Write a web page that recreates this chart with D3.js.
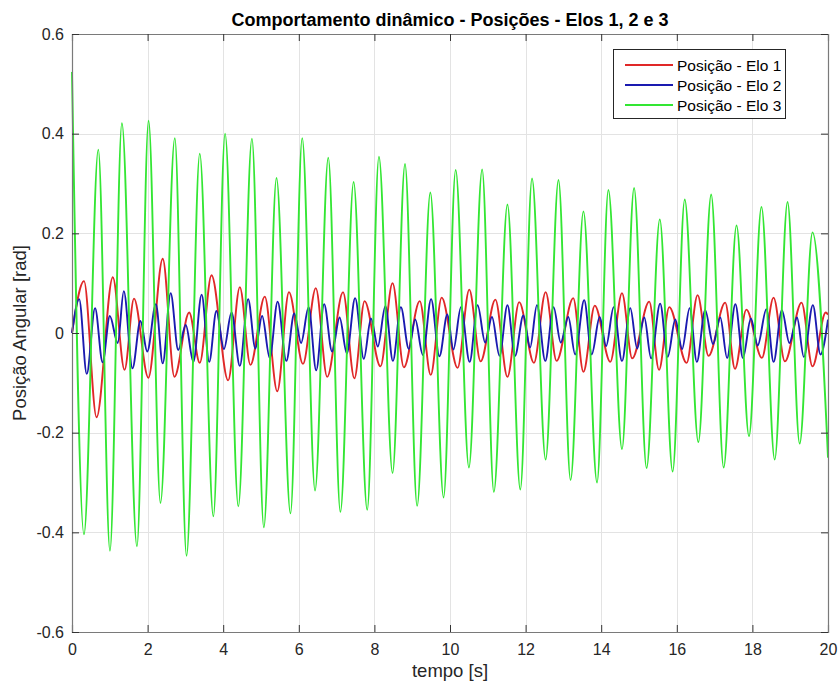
<!DOCTYPE html>
<html>
<head>
<meta charset="utf-8">
<script src="https://cdn.jsdelivr.net/npm/d3@7"></script>
<style>
  html, body { margin: 0; padding: 0; background: #fff; }
  svg { display: block; }
  text { font-family: "Liberation Sans", Arial, Helvetica, sans-serif; }
</style>
</head>
<body>
<svg id="chart" width="839" height="686"></svg>
<script>
// ---- data (extrema of each trace) ----
const seriesNames = ["Posição - Elo 1", "Posição - Elo 2", "Posição - Elo 3"];
const seriesColors = ["#e02828", "#1a1ab0", "#33e633"];

const elo1 = [[0,0],[0.317,0.104],[0.65,-0.169],[1.08,0.112],[1.39,-0.074],[1.64,0.069],[2.02,-0.09],[2.40,0.149],[2.71,-0.088],[3.10,0.041],[3.38,-0.06],[3.69,0.116],[4.13,-0.095],[4.44,0.092],[4.72,-0.064],[5.10,0.073],[5.43,-0.117],[5.74,0.082],[6.11,-0.062],[6.45,0.09],[6.75,-0.088],[7.17,0.082],[7.47,-0.091],[7.74,0.064],[8.16,-0.067],[8.48,0.10],[8.78,-0.069],[9.20,0.064],[9.49,-0.084],[9.78,0.071],[10.20,-0.07],[10.51,0.087],[10.81,-0.057],[11.20,0.067],[11.52,-0.088],[11.83,0.062],[12.22,-0.06],[12.53,0.082],[12.82,-0.056],[13.26,0.07],[13.53,-0.078],[13.83,0.055],[14.24,-0.058],[14.55,0.08],[14.82,-0.051],[15.27,0.063],[15.53,-0.074],[15.80,0.052],[16.26,-0.06],[16.55,0.076],[16.84,-0.046],[17.28,0.061],[17.54,-0.072],[17.84,0.047],[18.25,-0.05],[18.56,0.071],[18.86,-0.057],[19.30,0.061],[19.59,-0.067],[19.94,0.041],[20,0.037]];

const elo2 = [[0,0],[0.19,0.068],[0.39,-0.082],[0.61,0.05],[0.81,-0.059],[1.00,0.034],[1.21,-0.02],[1.37,0.084],[1.60,-0.071],[1.81,0.024],[1.99,-0.037],[2.22,0.058],[2.40,-0.061],[2.61,0.08],[2.81,-0.034],[3.01,0.016],[3.21,-0.058],[3.43,0.077],[3.63,-0.058],[3.82,0.044],[4.02,-0.032],[4.22,0.041],[4.44,-0.066],[4.66,0.068],[4.85,-0.031],[5.03,0.034],[5.23,-0.05],[5.44,0.063],[5.67,-0.056],[5.88,0.039],[6.06,-0.02],[6.26,0.052],[6.46,-0.075],[6.67,0.058],[6.88,-0.037],[7.08,0.031],[7.27,-0.041],[7.49,0.07],[7.72,-0.052],[7.91,0.029],[8.09,-0.027],[8.29,0.054],[8.49,-0.056],[8.70,0.052],[8.91,-0.032],[9.08,0.027],[9.28,-0.044],[9.50,0.068],[9.72,-0.047],[9.93,0.037],[10.09,-0.033],[10.29,0.052],[10.52,-0.058],[10.73,0.056],[10.93,-0.019],[11.11,0.032],[11.31,-0.046],[11.52,0.056],[11.72,-0.046],[11.94,0.035],[12.12,-0.029],[12.30,0.056],[12.52,-0.056],[12.74,0.052],[12.93,-0.019],[13.13,0.032],[13.31,-0.043],[13.55,0.066],[13.75,-0.043],[13.96,0.032],[14.13,-0.026],[14.33,0.052],[14.55,-0.056],[14.77,0.05],[14.95,-0.031],[15.14,0.031],[15.32,-0.051],[15.56,0.059],[15.76,-0.048],[15.96,0.027],[16.14,-0.032],[16.34,0.05],[16.53,-0.058],[16.75,0.046],[16.96,-0.022],[17.15,0.031],[17.33,-0.05],[17.55,0.058],[17.75,-0.05],[17.96,0.029],[18.14,-0.025],[18.37,0.048],[18.56,-0.058],[18.78,0.046],[18.98,-0.02],[19.18,0.031],[19.36,-0.048],[19.60,0.056],[19.80,-0.043],[20,0.027]];

const elo3 = [[0,0.524],[0.317,-0.404],[0.696,0.368],[1.004,-0.437],[1.32,0.421],[1.718,-0.428],[2.026,0.426],[2.34,-0.341],[2.72,0.391],[3.03,-0.447],[3.38,0.36],[3.74,-0.368],[4.05,0.40],[4.40,-0.348],[4.76,0.39],[5.075,-0.39],[5.41,0.311],[5.78,-0.362],[6.09,0.391],[6.43,-0.316],[6.78,0.352],[7.10,-0.359],[7.45,0.303],[7.81,-0.355],[8.12,0.354],[8.48,-0.281],[8.81,0.339],[9.13,-0.347],[9.48,0.282],[9.83,-0.33],[10.15,0.327],[10.50,-0.27],[10.85,0.328],[11.16,-0.319],[11.52,0.258],[11.86,-0.314],[12.17,0.31],[12.53,-0.254],[12.87,0.307],[13.19,-0.295],[13.53,0.244],[13.89,-0.30],[14.19,0.287],[14.55,-0.233],[14.87,0.291],[15.20,-0.271],[15.55,0.228],[15.89,-0.278],[16.21,0.268],[16.57,-0.219],[16.91,0.278],[17.24,-0.27],[17.58,0.216],[17.91,-0.207],[18.24,0.253],[18.59,-0.254],[18.93,0.263],[19.25,-0.222],[19.59,0.202],[20,-0.25]];

const xTicks = [0,2,4,6,8,10,12,14,16,18,20];
const yTicks = [-0.6,-0.4,-0.2,0,0.2,0.4,0.6];
const titleText = "Comportamento dinâmico - Posições - Elos 1, 2 e 3";
const xLabel = "tempo [s]";
const yLabel = "Posição Angular [rad]";

// ---- layout ----
const margin = {left: 72, right: 11, top: 34, bottom: 54};
const W = 839, H = 686;
const svg = d3.select("#chart");
const x = d3.scaleLinear().domain([0, 20]).range([margin.left, W - margin.right]);
const y = d3.scaleLinear().domain([-0.6, 0.6]).range([H - margin.bottom, margin.top]);
const x0 = x.range()[0], x1 = x.range()[1], y0 = y.range()[1], y1 = y.range()[0];

// grid
const grid = svg.append("g");
grid.selectAll(".gx").data(xTicks.slice(1, -1)).join("line")
  .attr("x1", d => Math.round(x(d)) + 0.5).attr("x2", d => Math.round(x(d)) + 0.5)
  .attr("y1", y0).attr("y2", y1).attr("stroke", "#e3e3e3").attr("stroke-width", 1);
grid.selectAll(".gy").data(yTicks.slice(1, -1)).join("line")
  .attr("y1", d => Math.round(y(d)) + 0.5).attr("y2", d => Math.round(y(d)) + 0.5)
  .attr("x1", x0).attr("x2", x1).attr("stroke", "#e3e3e3").attr("stroke-width", 1);

// lines
const line = d3.line().x(d => x(d[0])).y(d => y(d[1])).curve(d3.curveMonotoneX);
const plot = svg.append("g");
[elo1, elo2, elo3].forEach((s, i) => {
  plot.append("path").datum(s).attr("d", line)
    .attr("fill", "none").attr("stroke", seriesColors[i]).attr("stroke-width", 1.9)
    .attr("stroke-linejoin", "round");
});

// axes (MATLAB-like box with inward ticks)
const axB = svg.append("g").attr("transform", `translate(0,${y1})`)
  .call(d3.axisBottom(x).tickValues(xTicks).tickSize(-7).tickPadding(12).tickFormat(d3.format("d")));
const axT = svg.append("g").attr("transform", `translate(0,${y0})`)
  .call(d3.axisTop(x).tickValues(xTicks).tickSize(-7).tickFormat(""));
const axL = svg.append("g").attr("transform", `translate(${x0},0)`)
  .call(d3.axisLeft(y).tickValues(yTicks).tickSize(-7).tickPadding(8).tickFormat(d => d === 0 ? "0" : d3.format(".1f")(d).replace("−", "-")));
const axR = svg.append("g").attr("transform", `translate(${x1},0)`)
  .call(d3.axisRight(y).tickValues(yTicks).tickSize(-7).tickFormat(""));
[axB, axT, axL, axR].forEach(g => {
  g.select(".domain").attr("stroke", "#7a7a7a").attr("stroke-width", 1.2);
  g.selectAll(".tick line").attr("stroke", "#333").attr("stroke-width", 1);
  g.selectAll(".tick text").attr("fill", "#262626").attr("font-size", 16)
    .attr("font-family", "'Liberation Sans', Arial, sans-serif");
});

// title and labels
svg.append("text").attr("x", (x0 + x1) / 2).attr("y", 26).attr("text-anchor", "middle")
  .attr("font-size", 18).attr("font-weight", "bold").attr("fill", "#000").text(titleText);
svg.append("text").attr("x", (x0 + x1) / 2).attr("y", 677).attr("text-anchor", "middle")
  .attr("font-size", 18.5).attr("fill", "#262626").text(xLabel);
svg.append("text").attr("transform", `translate(26,${(y0 + y1) / 2}) rotate(-90)`)
  .attr("text-anchor", "middle").attr("font-size", 18.5).attr("fill", "#262626").text(yLabel);

// legend
const lg = svg.append("g");
lg.append("rect").attr("x", 613.5).attr("y", 49.5).attr("width", 172).attr("height", 69)
  .attr("fill", "#fff").attr("stroke", "#262626").attr("stroke-width", 1);
seriesNames.forEach((n, i) => {
  const yy = 65 + i * 20;
  lg.append("line").attr("x1", 625).attr("x2", 673).attr("y1", yy).attr("y2", yy)
    .attr("stroke", seriesColors[i]).attr("stroke-width", 1.9);
  lg.append("text").attr("x", 677).attr("y", yy + 5.5).attr("font-size", 15.5)
    .attr("fill", "#000").text(n);
});
</script>
</body>
</html>
